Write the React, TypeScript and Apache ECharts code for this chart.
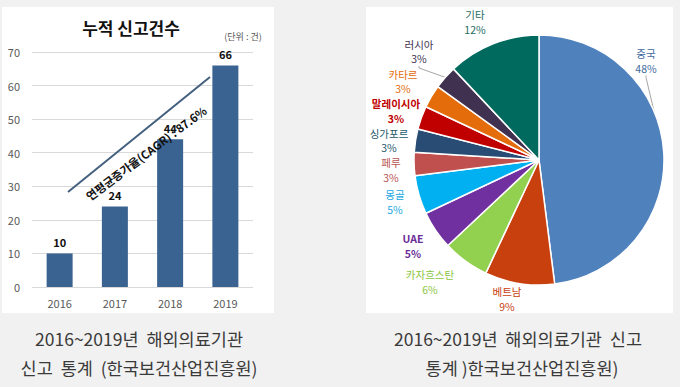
import React, { useEffect, useRef } from "react";
import * as echarts from "echarts";

const years = ["2016", "2017", "2018", "2019"];
const reports = [10, 24, 44, 66];
const yTicks = { min: 0, max: 70, interval: 10 };
const countries = ["중국", "베트남", "카자흐스탄", "UAE", "몽골", "페루", "싱가포르", "말레이시아", "카타르", "러시아", "기타"];
const shares = [48, 9, 6, 5, 5, 3, 3, 3, 3, 3, 12];
const sliceColors = ["#4f81bd", "#c8400e", "#92d050", "#7030a0", "#00b0f0", "#c0504d", "#284c74", "#c00000", "#e46c0a", "#403151", "#006a5e"];
const labelColors = ["#3d6a9e", "#c8400e", "#8cc63f", "#6a2c96", "#1aa7df", "#b8524f", "#24586a", "#c00000", "#e46c0a", "#403151", "#1d6b5f"];
const boldLabels = ["말레이시아", "UAE"];
const leaderLabels = ["중국", "러시아"];

const FONT = "'Noto Sans CJK KR', 'Noto Sans', sans-serif";

// label anchor positions in the right panel (layout, not data)
const LABEL_POS: [number, number][] = [
  [646, 61],
  [507, 299],
  [430, 282],
  [413, 246],
  [395, 202],
  [391, 170],
  [389, 140.5],
  [396, 111],
  [403, 81.5],
  [419, 51.5],
  [475, 22],
];

export default function App() {
  const ref = useRef<HTMLDivElement>(null);
  useEffect(() => {
    if (!ref.current) return;
    const chart = echarts.init(ref.current, null, { renderer: "svg" });
    const ang = (37 * Math.PI) / 180;
    chart.setOption({
      animation: false,
      backgroundColor: "#f1f1f1",
      textStyle: { fontFamily: FONT },
      graphic: [
        { type: "rect", z: -10, shape: { x: 2, y: 7, width: 272, height: 306 }, style: { fill: "#ffffff" } },
        { type: "rect", z: -10, shape: { x: 366, y: 7, width: 307, height: 306 }, style: { fill: "#ffffff" } },
        { type: "text", x: 131, y: 27, style: { text: "누적 신고건수", font: `bold 17px ${FONT}`, fill: "#111", align: "center", verticalAlign: "middle" } },
        { type: "text", x: 243, y: 36, style: { text: "(단위 : 건)", font: `9px ${FONT}`, fill: "#555", align: "center", verticalAlign: "middle" } },
        { type: "line", z: 10, shape: { x1: 68, y1: 192, x2: 210, y2: 77 }, style: { stroke: "#44607f", lineWidth: 2 } },
        { type: "text", z: 11, x: 146, y: 153, rotation: ang, style: { text: "연평균증가율(CAGR) : 87.6%", font: `bold 11.5px ${FONT}`, fill: "#111", align: "center", verticalAlign: "middle" } },
        { type: "text", x: 139, y: 338, style: { text: "2016~2019년  해외의료기관", font: `17.5px ${FONT}`, fill: "#3a3a3a", align: "center", verticalAlign: "middle" } },
        { type: "text", x: 139, y: 367, style: { text: "신고  통계  (한국보건산업진흥원)", font: `17.5px ${FONT}`, fill: "#3a3a3a", align: "center", verticalAlign: "middle" } },
        { type: "text", x: 518, y: 338, style: { text: "2016~2019년  해외의료기관  신고", font: `17.5px ${FONT}`, fill: "#3a3a3a", align: "center", verticalAlign: "middle" } },
        { type: "text", x: 522, y: 367, style: { text: "통계 )한국보건산업진흥원)", font: `17.5px ${FONT}`, fill: "#3a3a3a", align: "center", verticalAlign: "middle" } },
      ],
      grid: { left: 32, right: 427, top: 52, bottom: 100 },
      xAxis: {
        type: "category",
        data: years,
        axisLine: { show: false },
        axisTick: { show: false },
        axisLabel: { color: "#595959", fontSize: 11, margin: 10 },
      },
      yAxis: {
        type: "value",
        min: yTicks.min,
        max: yTicks.max,
        interval: yTicks.interval,
        axisLabel: { color: "#595959", fontSize: 11, margin: 12 },
        splitLine: { lineStyle: { color: "#d9d9d9" } },
      },
      series: [
        {
          type: "bar",
          data: reports,
          barWidth: 26,
          itemStyle: { color: "#3a6391" },
          label: { show: true, position: "top", fontWeight: "bold", fontSize: 11, color: "#111", distance: 6 },
        },
        {
          type: "pie",
          center: [539, 160],
          radius: 125,
          startAngle: 90,
          data: countries.map((n, i) => ({
            name: n,
            value: shares[i],
            itemStyle: { color: sliceColors[i] },
            label: { color: labelColors[i], fontWeight: boldLabels.includes(n) ? "bold" : "normal" },
            labelLine: { show: leaderLabels.includes(n) },
          })),
          itemStyle: { borderColor: "#ffffff", borderWidth: 1.5 },
          label: { show: true, position: "outside", formatter: "{b}\n{c}%", fontSize: 10.5, lineHeight: 14.5, width: 70, overflow: "none" },
          labelLine: { show: false, length: 4, length2: 2, lineStyle: { color: "#a6a6a6", width: 1 } },
          labelLayout: (p: any) => {
            const pos = LABEL_POS[p.dataIndex];
            return { x: pos[0], y: pos[1], align: "center", verticalAlign: "middle" };
          },
        },
      ],
    });
    return () => chart.dispose();
  }, []);
  return <div ref={ref} style={{ position: "fixed", left: 0, top: 0, width: 680, height: 387 }} />;
}
